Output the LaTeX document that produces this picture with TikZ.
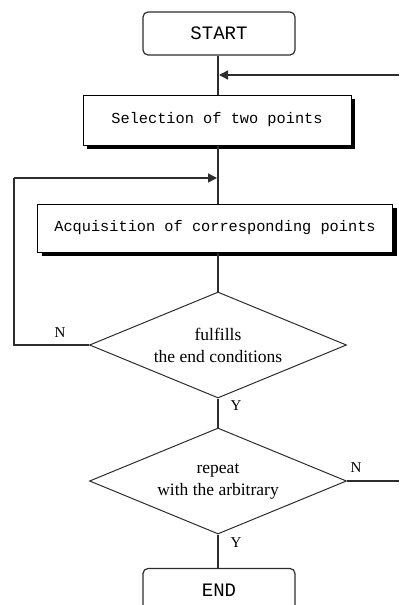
\documentclass[tikz,border=0pt]{standalone}
\usepackage{fontspec}
\setmainfont{Liberation Serif}
\newfontfamily\boxFont{Liberation Mono}
\usetikzlibrary{positioning,shapes.geometric,shadows,arrows.meta}
\definecolor{lineColor}{RGB}{45,45,45}
\tikzstyle{chart} = [x = 1pt, y = -1pt]
\tikzstyle{terminalStyle} = [draw=lineColor, line width=1.2pt, rounded corners=5pt, minimum width=152pt, minimum height=43pt, font=\boxFont\fontsize{19}{19}\selectfont]
\tikzstyle{processStyle} = [draw=black, fill=white, line width=1pt, minimum height=50pt, font=\boxFont\fontsize{15.3}{15.3}\selectfont, drop shadow={shadow xshift=4pt, shadow yshift=-4pt, fill=black, opacity=1}]
\tikzstyle{decisionStyle} = [diamond, draw=lineColor, line width=1pt, aspect=2.4, inner sep=0pt, minimum width=257pt, minimum height=106pt, align=center, font=\fontsize{17.5}{22}\selectfont]
\tikzstyle{flowLine} = [draw=lineColor, line width=1.3pt]
\tikzstyle{flowArrow} = [flowLine, -{Triangle[length=9pt, width=9pt]}]
\tikzstyle{branchText} = [font=\fontsize{15}{15}\selectfont, inner sep=0pt]
\begin{document}
\begin{tikzpicture}[chart]
\useasboundingbox (0,0) rectangle (399,605);
\node [terminalStyle] (start) at (219,33.5) {START};
\node [processStyle, minimum width=268pt] (select) at (217,120) {Selection of two points};
\node [processStyle, minimum width=355pt, minimum height=48pt] (acquire) at (215,228) {Acquisition of corresponding points\hspace{10pt}};
\node [decisionStyle] (fulfil) at (218,345) {fulfills\\the end conditions};
\node [decisionStyle] (repeat) at (218,481) {repeat\\with the arbitrary};
\node [terminalStyle] (finish) at (219,590) {END};
\coordinate (feedIn) at (399,75);
\coordinate (feedJoin) at (219,75);
\coordinate (loopTop) at (14,178);
\coordinate (loopJoin) at (217,178);
\coordinate (feedOut) at (399,481);
\draw [flowLine] (start.south -| fulfil.north) -- (select.north -| fulfil.north);
\draw [flowLine] (select.south -| fulfil.north) -- (acquire.north -| fulfil.north);
\draw [flowLine] (acquire.south -| fulfil.north) -- (fulfil.north);
\draw [flowLine] (fulfil.south) -- (repeat.north);
\draw [flowLine] (repeat.south) -- (finish.north -| repeat.south);
\draw [flowArrow] (feedIn) -- (feedJoin);
\draw [flowLine] (fulfil.west) -| (loopTop);
\draw [flowArrow] (loopTop) -- (loopJoin);
\draw [flowLine] (repeat.east) -- (feedOut);
\node [branchText] (noFulfil) at (60,333) {N};
\node [branchText] (yesFulfil) at (236,406) {Y};
\node [branchText] (noRepeat) at (356,468) {N};
\node [branchText] (yesRepeat) at (236,543) {Y};
\end{tikzpicture}
\end{document}
